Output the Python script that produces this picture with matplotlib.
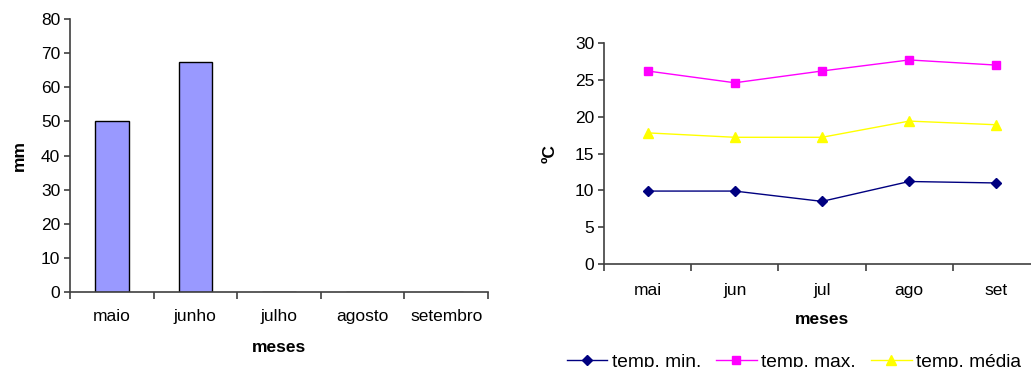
import numpy as np
import matplotlib
matplotlib.use("Agg")
import matplotlib.pyplot as plt

plt.rcParams["font.family"] = ["Liberation Sans", "DejaVu Sans"]
plt.rcParams["font.size"] = 12.5

# precipitation (mm)
MESES_CHUVA = ["maio", "junho", "julho", "agosto", "setembro"]
CHUVA = [50.0, 67.3, 0.0, 0.0, 0.0]

# temperatures (ºC)
MESES_TEMP = ["mai", "jun", "jul", "ago", "set"]
TEMP_MIN = [9.9, 9.9, 8.5, 11.2, 11.0]
TEMP_MAX = [26.2, 24.6, 26.2, 27.7, 27.0]
TEMP_MEDIA = [17.8, 17.2, 17.2, 19.4, 18.9]

W, H = 1031, 367
fig = plt.figure(figsize=(W / 100, H / 100), dpi=100)
AXIS_COLOR = "#404040"


def px_axes(left, top, right, bottom):
    return fig.add_axes([left / W, (H - bottom) / H, (right - left) / W, (bottom - top) / H])


def style_axes(ax, n):
    for side in ("top", "right"):
        ax.spines[side].set_visible(False)
    for side in ("left", "bottom"):
        ax.spines[side].set_color(AXIS_COLOR)
        ax.spines[side].set_linewidth(1.2)
    ax.set_xlim(-0.5, n - 0.5)
    # ticks sit between categories, labels in the middle
    ax.set_xticks(np.arange(n + 1) - 0.5)
    ax.set_xticklabels([])
    ax.tick_params(axis="x", which="major", length=5, color=AXIS_COLOR, width=1.2)
    ax.tick_params(axis="y", length=4, color=AXIS_COLOR, width=1.2, pad=3)


# --- precipitation bars ---
ax1 = px_axes(70, 19, 488, 292)
x1 = np.arange(len(MESES_CHUVA))
ax1.bar(x1, CHUVA, width=0.4, color="#9999FF", edgecolor="black", linewidth=1)
style_axes(ax1, len(MESES_CHUVA))
ax1.set_xticks(x1, minor=True)
ax1.set_xticklabels(MESES_CHUVA, minor=True)
ax1.tick_params(axis="x", which="minor", length=0, pad=12)
ax1.set_ylim(0, 80)
ax1.set_yticks(range(0, 81, 10))
ax1.set_xlabel("meses", fontweight="bold", labelpad=12)
ax1.set_ylabel("mm", fontweight="bold", labelpad=10)

# --- temperature lines ---
ax2 = px_axes(604, 43, 1040, 264)
x2 = np.arange(len(MESES_TEMP))
ax2.plot(x2, TEMP_MIN, color="#000080", marker="D", markersize=5, linewidth=1, label="temp. min.")
ax2.plot(x2, TEMP_MAX, color="#FF00FF", marker="s", markersize=6, linewidth=1, label="temp. max.")
ax2.plot(x2, TEMP_MEDIA, color="#FFFF00", marker="^", markersize=7, linewidth=1, label="temp. média")
style_axes(ax2, len(MESES_TEMP))
ax2.set_xticks(x2, minor=True)
ax2.set_xticklabels(MESES_TEMP, minor=True)
ax2.tick_params(axis="x", which="minor", length=0, pad=14)
ax2.set_ylim(0, 30)
ax2.set_yticks(range(0, 31, 5))
ax2.set_xlabel("meses", fontweight="bold", labelpad=10)
ax2.set_ylabel("ºC", fontweight="bold", labelpad=12)

fig.legend(loc="center", bbox_to_anchor=(794 / W, 5 / H), ncol=3, frameon=False,
           handlelength=2.1, handletextpad=0.25, columnspacing=0.8, fontsize=13.8)

fig.savefig("out.png", dpi=100)
